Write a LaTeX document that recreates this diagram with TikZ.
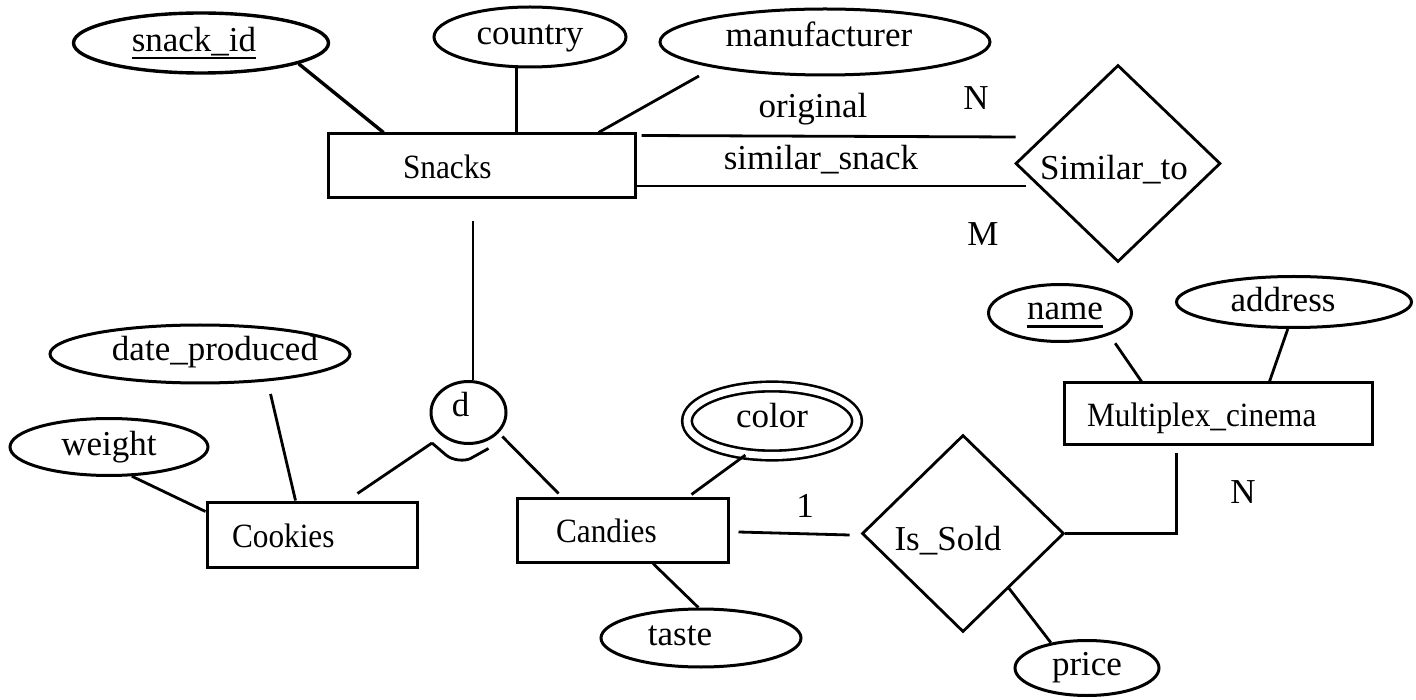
\documentclass[tikz,border=0pt]{standalone}
\usepackage{fontspec}
\setmainfont{Liberation Serif}
\newfontfamily\entfont{Liberation Serif}[FakeStretch=0.92]
\newcommand{\keyul}[1]{\setbox0=\hbox{#1}\rlap{\rule[-8pt]{\wd0}{2.6pt}}\box0}
\usetikzlibrary{shapes.geometric,calc}
\begin{document}
\begin{tikzpicture}[x=1pt,y=-1pt,
  every node/.style={font=\fontsize{35}{42}\selectfont, text=black},
  attr/.style={draw, ellipse, line width=3pt, inner xsep=-20pt, inner ysep=-6pt, text height=21pt, text depth=7pt},
  ent/.style={draw, rectangle, line width=3pt, inner ysep=0pt, align=left, text height=25pt, text depth=0pt, font=\entfont\fontsize{34}{40}\selectfont},
  rel/.style={draw, diamond, line width=2.8pt, inner sep=-10pt, text height=40pt, text depth=7pt},
  lbl/.style={anchor=base, inner sep=0pt},
  conn/.style={line width=2.8pt},
]
\useasboundingbox (0,0) rectangle (1416,700);
% entities
\node[ent, minimum height=64pt, text width=157pt, inner xsep=75pt] (snacks) at (481.5,166) {Snacks};
\node[ent, minimum height=65pt, text width=160pt, inner xsep=25pt] (cookies) at (312,534.5) {Cookies};
\node[ent, minimum height=64pt, text width=133pt, inner xsep=39pt] (candies) at (622.5,530) {Candies};
\node[ent, minimum height=61pt, text width=262pt, inner xsep=23pt] (multi) at (1218,413.5) {Multiplex\_cinema};
% attributes
\node[attr, line width=3.4pt, text height=24pt, minimum width=255pt, minimum height=60pt] (snackid) at (201,43) {\keyul{snack\_id}\kern14pt};
\node[attr, text height=23pt, minimum width=192pt, minimum height=60pt] (country) at (530,37) {country};
\node[attr, text height=17pt, minimum width=330pt, minimum height=66pt] (manuf) at (825,42) {manufacturer\kern12pt};
\node[attr, minimum width=300pt, minimum height=58pt] (datep) at (200,354) {\kern30pt date\_produced};
\node[attr, text height=23pt, minimum width=198pt, minimum height=57pt] (weight) at (109,447) {weight};
\node[attr, double, double distance=7pt, line width=2.6pt, minimum width=170pt, minimum height=69pt] (color) at (772,421) {color};
\node[attr, minimum width=200pt, minimum height=58pt] (taste) at (701,638) {taste\kern42pt};
\node[attr, minimum width=144pt, minimum height=55pt] (price) at (1087,668) {price};
\node[attr, minimum width=143pt, minimum height=57pt] (name) at (1060,313) {\kern10pt\keyul{name}};
\node[attr, text height=27pt, minimum width=235pt, minimum height=51pt] (address) at (1294,302) {address\kern22pt};
% relationships
\node[rel, minimum width=205pt, minimum height=197pt] (sim) at (1118,163.5) {Similar\_to\kern8pt};
\node[rel, minimum width=202pt, minimum height=197pt] (issold) at (963,533.5) {Is\_Sold\kern30pt};
% specialisation circle
\node[attr, text height=16pt, minimum width=75pt, minimum height=62pt] (d) at (468.5,412.5) {d\kern16pt};
% labels
\node[lbl] (lorig) at (813,118) {original};
\node[lbl] (lsim) at (821,170) {similar\_snack};
\node[lbl] (lN1) at (976,110) {N};
\node[lbl] (lM) at (983,246) {M};
\node[lbl] (l1) at (805,517) {1};
\node[lbl] (lN2) at (1243,503) {N};
% connectors
\draw[conn, line width=3.4pt] (snackid.-12) -- ([xshift=57pt]snacks.north west);
\draw[conn] (country.-113) -- (country.-113 |- snacks.north);
\draw[conn, shorten <=17pt] (manuf.-167.4) -- ([xshift=272pt]snacks.north west);
\draw[conn] ([shift={(5,3)}]snacks.north east) -- ([shift={(1.5,-26.5)}]sim.west);
\draw[conn] ([shift={(0,20)}]snacks.east) -- ([shift={(11.5,22.5)}]sim.west);
\draw[conn, shorten <=22pt] (d.82 |- snacks.south) -- (d.82);
\coordinate (dsub) at ([shift={(-36.5,30.5)}]d.center);
\draw[conn] (dsub) -- ([shift={(152,-7)}]cookies.north west);
\draw[conn, line join=round] (dsub) -- ([shift={(-22.5,42.5)}]d.center) .. controls ([shift={(-16,48)}]d.center) and ([shift={(-4,49)}]d.center) .. ([shift={(2,46)}]d.center) -- ([shift={(20,36)}]d.center);
\draw[conn, shorten <=5pt] (d.-34) -- ([shift={(43,-3)}]candies.north west);
\draw[conn] (weight.-52) -- ([shift={(0,11)}]cookies.north west);
\draw[conn, shorten <=13pt] (datep.-22) -- ([xshift=90pt]cookies.north west);
\draw[conn] (color.-128) -- ([shift={(176,-2)}]candies.north west);
\draw[conn] ([xshift=137.5pt]candies.south west) -- (taste.95);
\draw[conn] ([shift={(9,2)}]candies.east) -- ([shift={(-11,1.5)}]issold.west);
\draw[conn] (issold.east) -| ([shift={(114,7)}]multi.south west);
\draw[conn] ($(issold.east)!0.55!(issold.south)$) -- (price.145);
\draw[conn, shorten <=10pt] (name.-24.5) -- ([xshift=79pt]multi.north west);
\draw[conn] (address.-103) -- ([xshift=207pt]multi.north west);
\end{tikzpicture}
\end{document}
